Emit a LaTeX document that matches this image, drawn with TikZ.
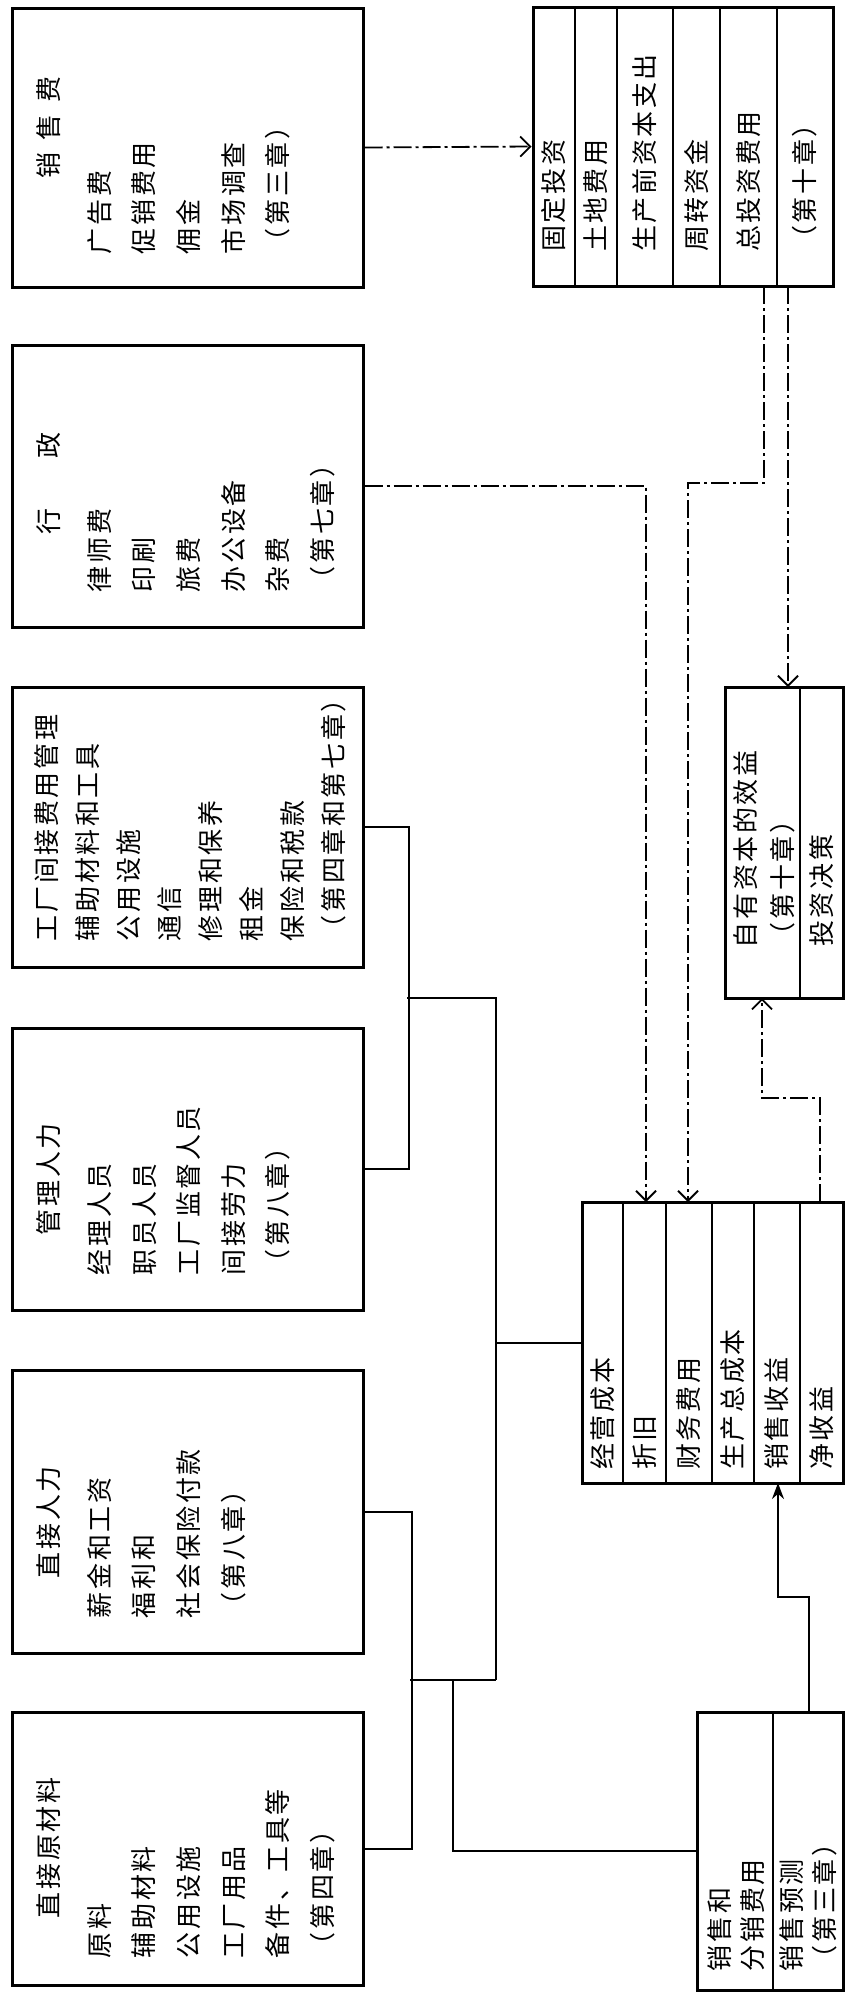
\documentclass[tikz,border=0pt]{standalone}
\usepackage{fontspec}
\newfontfamily\cjk[LetterSpace=10]{Noto Sans CJK SC}
\usetikzlibrary{arrows.meta}
\tikzset{>=Stealth,every node/.style={font=\cjk\fontsize{13}{22.3}\selectfont},
  box/.style={draw,line width=1.5pt,inner sep=0pt},
  txt/.style={rotate=90,anchor=north west,align=left,inner sep=0pt},
  coltxt/.style={rotate=90,anchor=west,align=left,inner sep=0pt},
  tight/.style={font=\cjk\fontsize{13}{16.5}\selectfont},
  div/.style={line width=.9pt},
  link/.style={line width=1pt},
  dlink/.style={line width=.9pt,dash pattern=on 9pt off 2pt on 1.5pt off 2pt},
  barb/.style={-{Straight Barb[length=5pt,width=10pt]}},
  head/.style={-{Stealth[length=8pt,width=6pt]}}}
\newcommand{\ind}{\hspace*{20pt}}

\begin{document}
\begin{tikzpicture}[x=0.5pt,y=-0.5pt]
\useasboundingbox (0,0) rectangle (845,1992);
% left column
\node[box,minimum width=175.5pt,minimum height=139.5pt] (sell) at (187.5,147.5) {};
\node[box,minimum width=175.5pt,minimum height=141pt] (admin) at (187.5,486) {};
\node[box,minimum width=175.5pt,minimum height=140pt] (fover) at (187.5,827) {};
\node[box,minimum width=175.5pt,minimum height=141pt] (olab) at (187.5,1169) {};
\node[box,minimum width=175.5pt,minimum height=141.5pt] (dlab) at (187.5,1511.5) {};
\node[box,minimum width=175.5pt,minimum height=136.5pt] (mat) at (187.5,1848.5) {};
\node[txt] at ([shift={(13pt,14pt)}]mat.south west) {\ind 直接原材料\\[3pt]原料\\辅助材料\\公用设施\\工厂用品\\备件、工具等\\（第四章）};
\node[txt] at ([shift={(13pt,18pt)}]dlab.south west) {\ind 直接人力\\[3pt]薪金和工资\\福利和\\社会保险付款\\（第八章）};
\node[txt] at ([shift={(13pt,18pt)}]olab.south west) {\ind 管理人力\\[3pt]经理人员\\职员人员\\工厂监督人员\\间接劳力\\（第八章）};
\node[txt,font=\cjk\fontsize{13}{20.5}\selectfont] at ([shift={(12pt,13.5pt)}]fover.south west) {工厂间接费用管理\\辅助材料和工具\\公用设施\\通信\\修理和保养\\租金\\保险和税款\\（第四章和第七章）};
\node[txt] at ([shift={(13pt,18pt)}]admin.south west) {\hspace*{29pt}行\hspace{25pt}政\\[3pt]律师费\\印刷\\旅费\\办公设备\\杂费\\（第七章）};
\node[txt] at ([shift={(13pt,17pt)}]sell.south west) {\hspace*{38pt}销\hspace{6pt}售\hspace{6pt}费\\[3pt]广告费\\促销费用\\佣金\\市场调查\\（第三章）};
% right side
\node[box,minimum width=150pt,minimum height=139.5pt] (inv) at (683,146.5) {};
\foreach \x in {575,617,673,720,777} \draw[div] (\x,7) -- (\x,286);
\node[coltxt] at (554,252) {固定投资};
\node[coltxt] at (596,252) {土地费用};
\node[coltxt] at (645,252) {生产前资本支出};
\node[coltxt] at (696.5,252) {周转资金};
\node[coltxt] at (748.5,252) {总投资费用};
\node[coltxt] at (805,252) {（第十章）};
\node[box,minimum width=59pt,minimum height=155.5pt] (prof) at (784,842.5) {};
\draw[div] (800,687) -- (800,998);
\node[txt,font=\cjk\fontsize{13}{18.5}\selectfont] at ([shift={(5pt,25.5pt)}]prof.south west) {自有资本的效益\\（第十章）};
\node[coltxt] at (821.5,947) {投资决策};
\node[box,minimum width=130.5pt,minimum height=140.5pt] (cost) at (712.5,1342.5) {};
\foreach \x in {623,666,712,754,800} \draw[div] (\x,1202) -- (\x,1483);
\node[coltxt] at (602.5,1470) {经营成本};
\node[coltxt] at (644.5,1470) {折旧};
\node[coltxt] at (689,1470) {财务费用};
\node[coltxt] at (733,1470) {生产总成本};
\node[coltxt] at (777,1470) {销售收益};
\node[coltxt] at (821.5,1470) {净收益};
\node[box,minimum width=73pt,minimum height=139pt] (sale) at (770,1851) {};
\draw[div] (773,1712) -- (773,1990);
\node[txt,tight] at ([shift={(6pt,10pt)}]sale.south west) {销售和\\分销费用};
\node[txt,tight] at ([shift={(42pt,10pt)}]sale.south west) {销售预测\\（第三章）};
% connection points
\coordinate (costA) at (646,1202);
\coordinate (costB) at (688,1202);
\coordinate (costC) at (820,1202);
\coordinate (costD) at (778,1483);
\coordinate (invA) at (764,286);
\coordinate (invB) at (788,286);
\coordinate (profA) at (788,687);
\coordinate (profB) at (762,998);
\coordinate (saleA) at (809,1712);
\coordinate (j1) at (407,998);
\coordinate (j2) at (496,1680);
\coordinate (j3) at (410,1680);
% connectors
\draw[dlink,barb] (sell.east) -- (inv.west);
\draw[dlink,barb] (admin.east) -| (costA);
\draw[dlink,barb] (invA) -- ++(0,197) -| (costB);
\draw[dlink,barb] (invB) -- (profA);
\draw[dlink,barb] (costC) -- ++(0,-104) -| (profB);
\draw[link,head] (saleA) -- ++(0,-115) -| (costD);
\draw[link] (fover.east) -- ++(44,0) |- (olab.east);
\draw[link] (j1) -| (j2);
\draw[link] (cost.west -| j2) -- (cost.west);
\draw[link] (dlab.east) -- ++(47,0) |- (mat.east);
\draw[link] (j3) -- (j2);
\draw[link] (453,1680) |- (sale.west);
\end{tikzpicture}
\end{document}
